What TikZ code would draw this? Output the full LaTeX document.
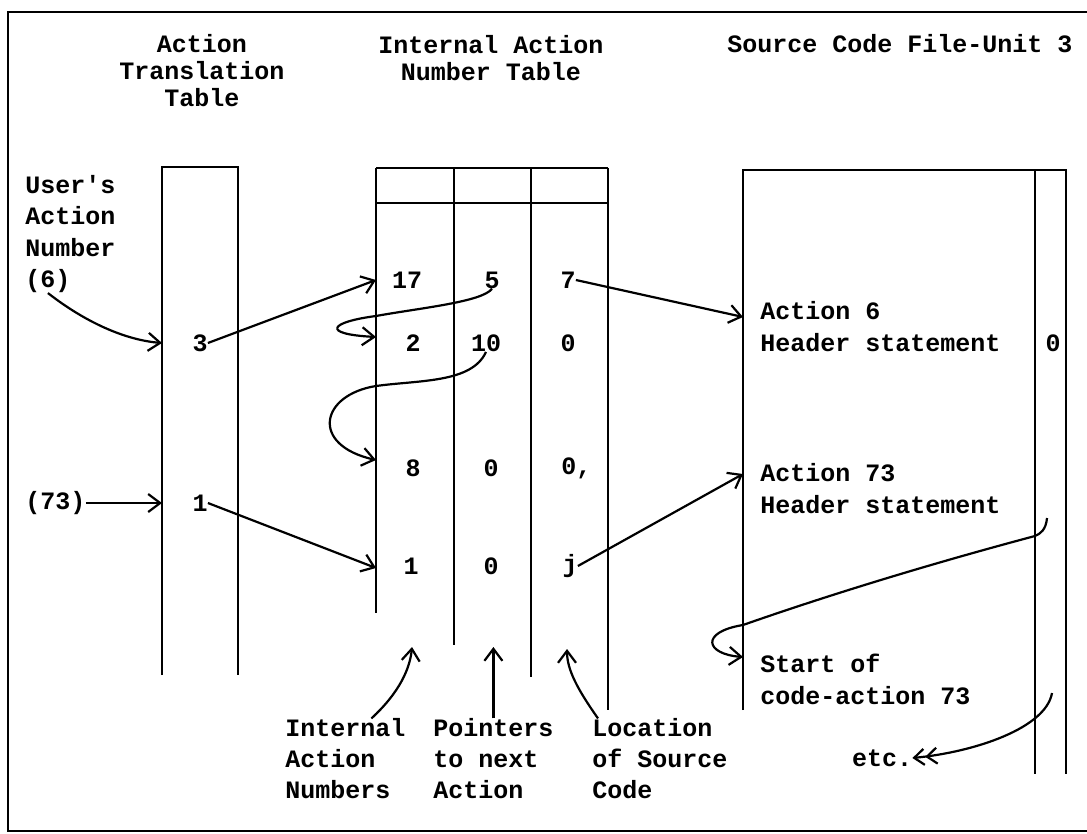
\documentclass[tikz,border=0pt]{standalone}
\usepackage{fontspec}
\setmainfont{Liberation Mono}
\usetikzlibrary{arrows.meta}
\begin{document}
\begin{tikzpicture}[x=0.5pt,y=-0.5pt,
  rule/.style={line width=1.3pt},
  link/.style={line width=1.1pt,-{Straight Barb[length=6pt,width=9pt,line width=1.1pt]}},
  dlink/.style={line width=1.1pt,-{Straight Barb[length=5pt,width=8pt,line width=1.1pt]Straight Barb[length=5pt,width=8pt,line width=1.1pt]}},
  txt/.style={font=\fontsize{12.5pt}{13.5pt}\selectfont\bfseries,inner sep=0pt},
  cell/.style={txt},
  para/.style={txt,align=left,font=\fontsize{12.5pt}{16pt}\selectfont\bfseries},
  note/.style={txt,align=left,font=\fontsize{12.5pt}{15.5pt}\selectfont\bfseries}
]
\useasboundingbox (0,0) rectangle (1087,834);

% outer frame
\draw[rule] (1087,12) -- (8,12) -- (8,831) -- (1087,831);

% column titles
\node[txt,align=center] (ttrans) at (202,71) {Action\\Translation\\Table};
\node[txt,align=center] (tint) at (491,58) {Internal Action\\Number Table};
\node[txt] (tsrc) at (900,44) {Source Code File-Unit 3};

% action translation table
\draw[rule] (162,675) -- (162,167) -- (238,167) -- (238,675);

% internal action number table
\draw[rule] (376,168) -- (608,168);
\draw[rule] (376,203) -- (608,203);
\draw[rule] (376,168) -- (376,613);
\draw[rule] (454,168) -- (454,645);
\draw[rule] (531,168) -- (531,677);
\draw[rule] (608,168) -- (608,710);

% source code file
\draw[rule] (743,710) -- (743,170) -- (1066,170) -- (1066,774);
\draw[rule] (1035,170) -- (1035,774);

% user's action numbers
\node[para,anchor=west,font=\fontsize{12.5pt}{15.8pt}\selectfont\bfseries] (uhead) at (25,216) {User\textquotesingle s\\Action\\Number};
\node[txt,anchor=west] (u6) at (25,281) {(6)};
\node[txt,anchor=west] (u73) at (25,503) {(73)};

% translation entries
\node[cell] (a3) at (200,343) {3};
\node[cell] (a1) at (200,503) {1};

% internal table rows
\node[cell] (n17) at (407,280) {17};
\node[cell] (n5) at (492,280) {5};
\node[cell] (n7) at (568,280) {7};
\node[cell] (n2) at (413,343) {2};
\node[cell] (n10) at (486,343) {10};
\node[cell] (n0a) at (568,343) {0};
\node[cell] (n8) at (413,468) {8};
\node[cell] (n0b) at (491,468) {0};
\node[cell,anchor=west] (n0c) at (561,468) {0,};
\node[cell] (n1) at (411,566) {1};
\node[cell] (n0d) at (491,566) {0};
\node[cell] (nj) at (570,566) {j};

% source file text
\node[para,anchor=west] (s6) at (760,327) {Action 6\\Header statement};
\node[cell] (s0) at (1053,343) {0};
\node[para,anchor=west] (s73) at (760,489) {Action 73\\Header statement};
\node[para,anchor=west] (sstart) at (760,679) {Start of\\code-action 73};
\node[txt] (etc) at (882,758) {etc.};

% bottom captions
\node[note,anchor=west] (lint) at (285,759) {Internal\\Action\\Numbers};
\node[note,anchor=west] (lptr) at (433,759) {Pointers\\to next\\Action};
\node[note,anchor=west] (lloc) at (592,759) {Location\\of Source\\Code};

% arrow ends on the column rules
\coordinate (t6) at (162,343);
\coordinate (t73) at (162,503);
\coordinate (i17) at (376,280);
\coordinate (i2) at (376,337);
\coordinate (i8) at (376,460);
\coordinate (i1) at (376,568);
\coordinate (f6) at (743,317);
\coordinate (f73) at (743,474);
\coordinate (fst) at (743,657);
\coordinate (hend) at (1047,518);
\coordinate (cend) at (1052,693);
\coordinate (pint) at (412,647);
\coordinate (ploc) at (567,649);

% user number to translation table
\draw[link] (u6.south) .. controls (85,322) and (125,340) .. (t6);
\draw[link] (u73.east) -- (t73);

% translation table to internal numbers
\draw[link] (a3.east) -- (i17);
\draw[link] (a1.east) -- (i1);

% chains through the internal table
\draw[link] (n5.south) .. controls (482,302) and (420,308) .. (376,316)
  .. controls (330,322) and (320,334) .. (i2);
\draw[link] (n10.south) .. controls (472,383) and (420,380) .. (376,386)
  .. controls (320,395) and (310,445) .. (i8);

% source code locations
\draw[link] (n7.east) -- (f6);
\draw[link] (nj.east) -- (f73);

% continuation inside the source file
\draw[link] (hend) .. controls (1046,530) and (1040,534) .. (1035,536)
  .. controls (900,572) and (800,605) .. (743,625)
  .. controls (700,632) and (705,654) .. (fst);
\draw[dlink] (cend) .. controls (1046,728) and (975,752) .. (etc.east);

% caption pointers
\draw[link] ([xshift=13pt]lint.north) .. controls (400,692) and (410,668) .. (pint);
\draw[link] (lptr.north) -- (lptr.north |- pint);
\draw[link] ([xshift=3pt]lloc.north west) .. controls (578,690) and (567,670) .. (ploc);
\end{tikzpicture}
\end{document}
